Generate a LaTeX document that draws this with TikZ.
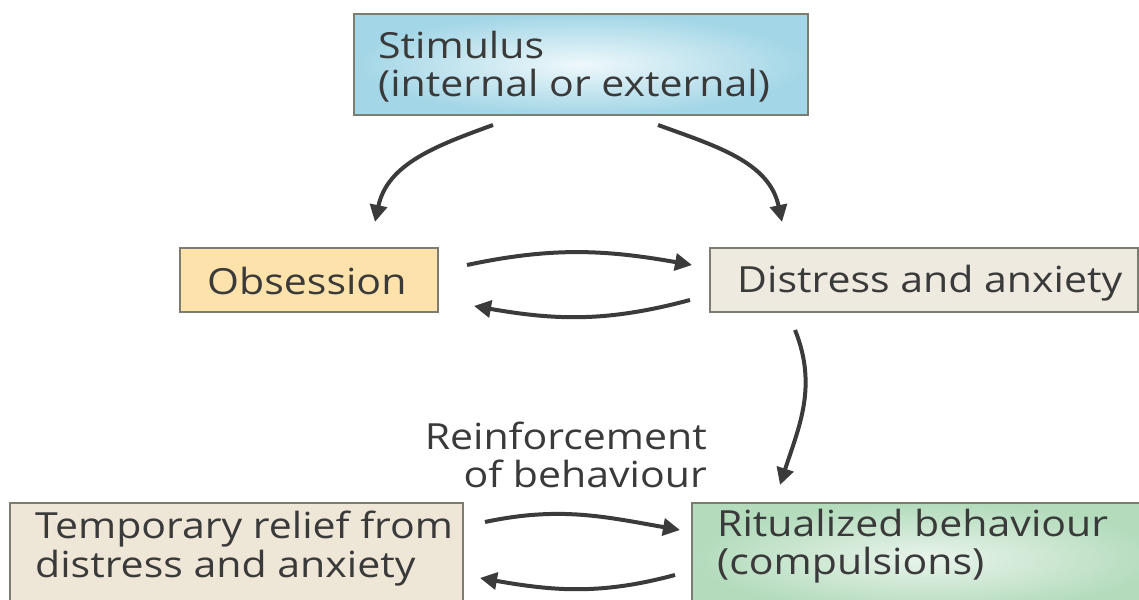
\documentclass[tikz,border=0pt]{standalone}
\usepackage{fontspec}
\setmainfont{Open Sans}[FakeStretch=1.14]
\usetikzlibrary{arrows.meta,calc}
\definecolor{txt}{HTML}{3A3A3A}
\definecolor{brd}{HTML}{7C7C70}
\definecolor{arrc}{HTML}{3B3B3B}
\definecolor{stimout}{HTML}{A3D6E6}
\definecolor{stimin}{HTML}{EEF8FB}
\definecolor{obsfill}{HTML}{FDE3AB}
\definecolor{disfill}{HTML}{EFEADF}
\definecolor{relfill}{HTML}{EEE7D8}
\definecolor{ritout}{HTML}{B3DBBC}
\definecolor{ritin}{HTML}{E9F4EB}
\begin{document}
\begin{tikzpicture}[x=1pt,y=1pt,
  box/.style={draw=brd,line width=2pt,inner sep=0pt,outer sep=0pt},
  arr/.style={draw=arrc,line width=4pt,-{Triangle[length=17pt,width=17pt]}},
  lbl/.style={text=txt,font=\fontsize{36}{38}\selectfont,inner sep=0pt}]
\useasboundingbox (0,0) rectangle (1139,599);
\begin{scope}
\clip (0,0) rectangle (1139,599);
% boxes
\node[box,minimum width=454pt,minimum height=101pt,inner color=stimin,outer color=stimout,anchor=north west] (stim) at (354,585) {};
\node[box,fill=obsfill,minimum width=258pt,minimum height=64pt,anchor=north west] (obs) at (180,351) {};
\node[box,fill=disfill,minimum width=428pt,minimum height=64pt,anchor=north west] (dis) at (710,351) {};
\node[box,fill=relfill,minimum width=453pt,minimum height=110pt,anchor=north west] (rel) at (10,96) {};
\node[box,inner color=ritin,outer color=ritout,minimum width=470pt,minimum height=110pt,anchor=north west] (rit) at (692,96) {};
\end{scope}
% texts (base anchor of a multi-line node = last line)
\node[lbl,anchor=base west,align=left] (stimt) at (378,502) {Stimulus\\(internal or external)};
\node[lbl,anchor=base west] (obst) at ([xshift=27pt,yshift=-47pt]obs.north west) {Obsession};
\node[lbl,anchor=base west] (dist) at ([xshift=27pt,yshift=-45pt]dis.north west) {Distress and anxiety};
\node[lbl,anchor=base west,align=left] (relt) at (35,22) {Temporary relief from\\distress and anxiety};
\node[lbl,anchor=base west,align=left] (ritt) at (717,24) {Ritualized behaviour\\(compulsions)};
\node[lbl,anchor=base east,align=right] (reinf) at (707,111) {Reinforcement\\of behaviour};
% arrow end points
\coordinate (s1) at ([xshift=139pt,yshift=-10pt]stim.south west);
\coordinate (s1e) at ([xshift=195pt,yshift=26pt]obs.north west);
\coordinate (s2) at ([xshift=304pt,yshift=-10pt]stim.south west);
\coordinate (s2e) at ([xshift=72pt,yshift=26pt]dis.north west);
\coordinate (o1) at ([xshift=29pt,yshift=-17pt]obs.north east);
\coordinate (o1e) at ([xshift=-18pt,yshift=-17pt]dis.north west);
\coordinate (o4) at ([xshift=-20pt,yshift=-52pt]dis.north west);
\coordinate (o4e) at ([xshift=36pt,yshift=-58pt]obs.north east);
\coordinate (d1) at ([xshift=85pt,yshift=-18pt]dis.south west);
\coordinate (d1e) at ([xshift=88pt,yshift=18pt]rit.north west);
\coordinate (e1) at ([xshift=22pt,yshift=-19pt]rel.north east);
\coordinate (e1e) at ([xshift=-12pt,yshift=-27pt]rit.north west);
\coordinate (e3) at ([xshift=-17pt,yshift=-72pt]rit.north west);
\coordinate (e3e) at ([xshift=17pt,yshift=-75pt]rel.north east);
% arrows
\draw[arr] (s1) to[out=200,in=78] (s1e);
\draw[arr] (s2) to[out=-20,in=102] (s2e);
\draw[arr] (o1) to[out=12,in=170] (o1e);
\draw[arr] (o4) to[out=195,in=-10] (o4e);
\draw[arr] (d1) to[out=-68,in=72] (d1e);
\draw[arr] (e1) to[out=12,in=170] (e1e);
\draw[arr] (e3) to[out=195,in=-10] (e3e);
\end{tikzpicture}
\end{document}
